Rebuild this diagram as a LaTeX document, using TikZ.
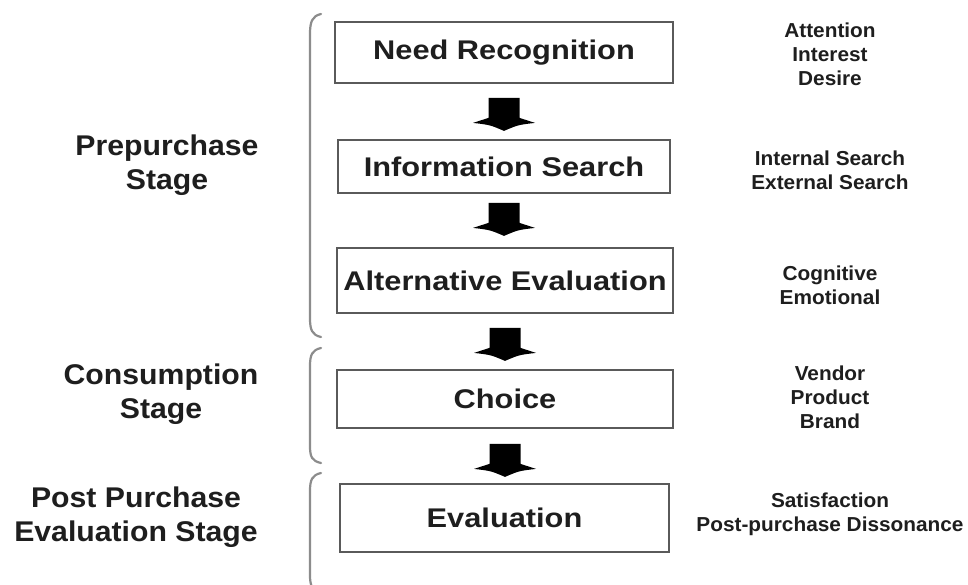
\documentclass[tikz,border=0pt]{standalone}
\usepackage{fontspec}
\usetikzlibrary{calc}
\setmainfont{Liberation Sans}
\newfontfamily\boxfont[FakeStretch=1.14]{Liberation Sans}
\newfontfamily\leftfont[FakeStretch=1.06]{Liberation Sans}
\newfontfamily\rightfont[FakeStretch=1.03]{Liberation Sans}
\definecolor{txt}{HTML}{1E1E1E}
\definecolor{boxline}{HTML}{5A5A5A}
\definecolor{bracecol}{HTML}{8C8C8C}
\tikzset{
  stepbox/.style={draw=boxline, line width=1.8pt, fill=white, inner sep=0pt,
    font=\boxfont\bfseries\fontsize{27}{31}\selectfont, text=txt},
  stagelabel/.style={align=center, inner sep=0pt, text=txt,
    font=\leftfont\bfseries\fontsize{28.5}{34}\selectfont},
  sidelabel/.style={align=center, inner sep=0pt, text=txt,
    font=\rightfont\bfseries\fontsize{20.2}{24}\selectfont},
  bracket/.style={draw=bracecol, line width=2.2pt, line cap=round},
  blockarrow/.pic={
    \fill[black] (-15.5,0) -- (15.5,0) -- (15.5,20) -- (31,25)
      .. controls (14,27) .. (0,33) .. controls (-14,27) .. (-31,25)
      -- (-15.5,20) -- cycle;
  }
}
\begin{document}
\begin{tikzpicture}[x=1pt,y=-1pt]
\useasboundingbox (0,0) rectangle (968,585);
\clip (0,0) rectangle (968,585);
\fill[white] (0,0) rectangle (968,585);

% process boxes
\node[stepbox, minimum width=338pt, minimum height=61pt] (need) at (504,52.5) {Need Recognition};
\node[stepbox, minimum width=332pt, minimum height=53pt] (info) at (504,166.5) {Information Search};
\node[stepbox, minimum width=336pt, minimum height=65pt] (alt) at (505,280.5) {Alternative Evaluation};
\node[stepbox, minimum width=336pt, minimum height=58pt] (choice) at (505,399) {Choice};
\node[stepbox, minimum width=329pt, minimum height=68pt] (eval) at (504.5,518) {Evaluation};

% block arrows between boxes
\pic at ($(need.south)+(0,14)$) {blockarrow};
\pic at ($(info.south)+(0,9)$) {blockarrow};
\pic at ($(alt.south)+(0,14)$) {blockarrow};
\pic at ($(choice.south)+(0,15)$) {blockarrow};

% stage brackets
\draw[bracket] (321,14) .. controls (312,16) and (310,22) .. (310,34)
  -- (310,318) .. controls (310,330) and (312,335) .. (321,337);
\draw[bracket] (321,348) .. controls (312,350) and (310,355) .. (310,366)
  -- (310,446) .. controls (310,457) and (312,461) .. (321,463);
\draw[bracket] (321,473) .. controls (312,475) and (310,480) .. (310,491)
  -- (310,575) .. controls (310,586) and (312,590) .. (321,592);

% stage labels
\node[stagelabel] (pre) at (167,165) {Prepurchase\\Stage};
\node[stagelabel] (cons) at (161,394) {Consumption\\Stage};
\node[stagelabel] (post) at (136,517) {Post Purchase\\Evaluation Stage};

% side labels
\node[sidelabel] (s1) at (830,54) {Attention\\Interest\\Desire};
\node[sidelabel] (s2) at (830,170) {Internal Search\\External Search};
\node[sidelabel] (s3) at (830,285) {Cognitive\\Emotional};
\node[sidelabel] (s4) at (830,397) {Vendor\\Product\\Brand};
\node[sidelabel] (s5) at (830,514) {Satisfaction\\Post-purchase Dissonance};
\end{tikzpicture}
\end{document}
